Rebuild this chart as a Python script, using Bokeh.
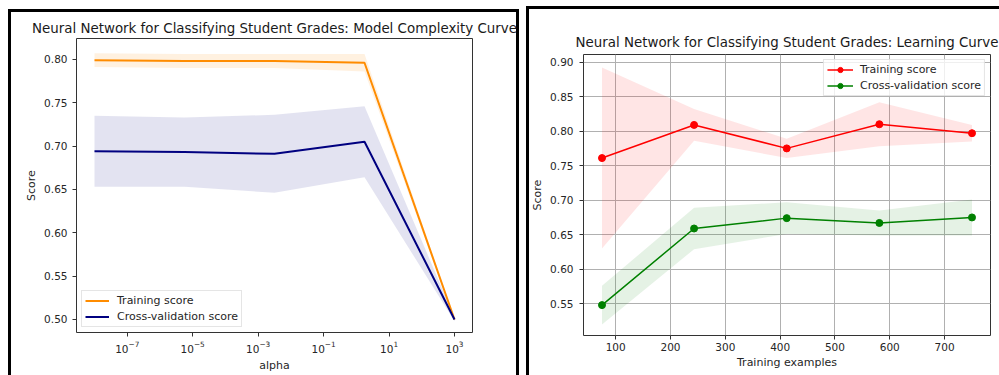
from bokeh.plotting import figure
from bokeh.models import (ColumnDataSource, Legend, LegendItem, FixedTicker, Range1d,
                          PrintfTickFormatter)
from bokeh.embed import file_html
from bokeh.resources import INLINE

# ---------------- data: model complexity curve ----------------
alpha_values = [1e-8, 5.62e-6, 3.16e-3, 1.78, 1e3]
mc_train_mean = [0.799, 0.798, 0.798, 0.796, 0.500]
mc_train_std = [0.008, 0.008, 0.008, 0.010, 0.001]
mc_cv_mean = [0.694, 0.693, 0.691, 0.705, 0.500]
mc_cv_std = [0.041, 0.040, 0.045, 0.041, 0.002]
mc_x_ticks = [1e-7, 1e-5, 1e-3, 1e-1, 1e1, 1e3]
mc_y_ticks = [0.50, 0.55, 0.60, 0.65, 0.70, 0.75, 0.80]

# ---------------- data: learning curve ----------------
train_sizes = [75, 243, 412, 581, 750]
lc_train_mean = [0.761, 0.809, 0.775, 0.810, 0.797]
lc_train_std = [0.131, 0.023, 0.014, 0.032, 0.012]
lc_cv_mean = [0.548, 0.659, 0.674, 0.667, 0.675]
lc_cv_std = [0.028, 0.030, 0.023, 0.018, 0.026]
lc_x_ticks = [100, 200, 300, 400, 500, 600, 700]
lc_y_ticks = [0.55, 0.60, 0.65, 0.70, 0.75, 0.80, 0.85, 0.90]

FONT = "DejaVu Sans"
TXT = "#262626"


def band(x, mean, std):
    return ColumnDataSource(dict(
        x=x, mean=mean,
        lo=[m - s for m, s in zip(mean, std)],
        hi=[m + s for m, s in zip(mean, std)],
    ))


def style(p, standoff):
    p.title.text_font = FONT
    p.title.text_font_size = "13.4px"
    p.title.text_font_style = "normal"
    p.title.text_color = "#1a1a1a"
    p.title.align = "center"
    p.title.standoff = standoff
    p.outline_line_color = "#333333"
    p.outline_line_width = 1
    p.background_fill_color = "white"
    p.border_fill_color = None
    for ax in p.axis:
        ax.axis_line_color = None
        ax.major_tick_line_color = "#333333"
        ax.major_tick_in = 0
        ax.major_tick_out = 4
        ax.minor_tick_line_color = None
        ax.major_label_text_font = FONT
        ax.major_label_text_font_size = "10.5px"
        ax.major_label_text_color = TXT
        ax.axis_label_text_font = FONT
        ax.axis_label_text_font_size = "11px"
        ax.axis_label_text_font_style = "normal"
        ax.axis_label_text_color = TXT


# ---------------- left figure ----------------
p1 = figure(
    width=511, height=366, x_axis_type="log",
    x_range=Range1d(10 ** -8.55, 10 ** 3.55), y_range=Range1d(0.485, 0.824),
    title="Neural Network for Classifying Student Grades: Model Complexity Curve",
    min_border_left=68, min_border_right=47, min_border_top=29, min_border_bottom=43,
    output_backend="svg", toolbar_location=None,
)
style(p1, 5)
p1.xgrid.visible = False
p1.ygrid.visible = False
p1.xaxis.axis_label = "alpha"
p1.yaxis.axis_label = "Score"
p1.xaxis.ticker = FixedTicker(ticks=mc_x_ticks)
p1.yaxis.ticker = FixedTicker(ticks=mc_y_ticks)
p1.yaxis.formatter = PrintfTickFormatter(format="%.2f")
p1.xaxis.major_label_standoff = 4
p1.yaxis.major_label_standoff = 5
p1.xaxis.axis_label_standoff = 3
p1.yaxis.axis_label_standoff = 3

s_tr = band(alpha_values, mc_train_mean, mc_train_std)
s_cv = band(alpha_values, mc_cv_mean, mc_cv_std)
p1.varea(x="x", y1="lo", y2="hi", source=s_tr, fill_color="darkorange", fill_alpha=0.12)
p1.varea(x="x", y1="lo", y2="hi", source=s_cv, fill_color="navy", fill_alpha=0.11)
l_tr = p1.line("x", "mean", source=s_tr, line_color="darkorange", line_width=2)
l_cv = p1.line("x", "mean", source=s_cv, line_color="navy", line_width=2)

leg1 = Legend(items=[LegendItem(label="Training score", renderers=[l_tr]),
                     LegendItem(label="Cross-validation score", renderers=[l_cv])],
              location="bottom_left")
p1.add_layout(leg1)

# ---------------- right figure ----------------
p2 = figure(
    width=473, height=369,
    x_range=Range1d(41.25, 783.75), y_range=Range1d(0.504, 0.911),
    title="Neural Network for Classifying Student Grades: Learning Curve",
    min_border_left=57, min_border_right=9, min_border_top=48, min_border_bottom=40,
    output_backend="svg", toolbar_location=None,
)
style(p2, 9)
p2.xaxis.axis_label = "Training examples"
p2.yaxis.axis_label = "Score"
p2.xaxis.ticker = FixedTicker(ticks=lc_x_ticks)
p2.yaxis.ticker = FixedTicker(ticks=lc_y_ticks)
p2.yaxis.formatter = PrintfTickFormatter(format="%.2f")
p2.xaxis.major_label_standoff = 3
p2.yaxis.major_label_standoff = 6
p2.xaxis.axis_label_standoff = 2
p2.yaxis.axis_label_standoff = 3
for g in (p2.xgrid, p2.ygrid):
    g.grid_line_color = "#b0b0b0"
    g.grid_line_width = 1

r_tr = band(train_sizes, lc_train_mean, lc_train_std)
r_cv = band(train_sizes, lc_cv_mean, lc_cv_std)
p2.varea(x="x", y1="lo", y2="hi", source=r_tr, fill_color="red", fill_alpha=0.1)
p2.varea(x="x", y1="lo", y2="hi", source=r_cv, fill_color="green", fill_alpha=0.1)
rl_tr = p2.line("x", "mean", source=r_tr, line_color="red", line_width=1.5)
rs_tr = p2.scatter("x", "mean", source=r_tr, size=7, fill_color="red", line_color="red")
rl_cv = p2.line("x", "mean", source=r_cv, line_color="green", line_width=1.5)
rs_cv = p2.scatter("x", "mean", source=r_cv, size=7, fill_color="green", line_color="green")

leg2 = Legend(items=[LegendItem(label="Training score", renderers=[rl_tr, rs_tr]),
                     LegendItem(label="Cross-validation score", renderers=[rl_cv, rs_cv])],
              location="top_right")
p2.add_layout(leg2)

for lg, m, gw, pad, so in ((leg1, 5, 24, 3, 8), (leg2, 5, 26, 3, 7)):
    lg.margin = m
    lg.padding = pad
    lg.spacing = 3
    lg.glyph_width = gw
    lg.glyph_height = 13
    lg.label_height = 13
    lg.label_standoff = so
    lg.label_text_font = FONT
    lg.label_text_font_size = "11px"
    lg.label_text_color = TXT
    lg.border_line_color = "#cccccc"
    lg.border_line_width = 1
    lg.background_fill_alpha = 0.8

bar = "linear-gradient(#000000, #000000)"
p1.styles = {"position": "absolute", "left": "8px", "top": "9px",
             "background": (f"{bar} left top / 100% 3px no-repeat, "
                            f"{bar} left top / 3px 100% no-repeat, "
                            f"{bar} right top / 3px 100% no-repeat, #ffffff")}
p2.styles = {"position": "absolute", "left": "526px", "top": "6px",
             "background": (f"{bar} left top / 100% 3px no-repeat, "
                            f"{bar} left top / 3px 100% no-repeat, #ffffff")}

open("out.html", "w").write(file_html([p1, p2], INLINE))
